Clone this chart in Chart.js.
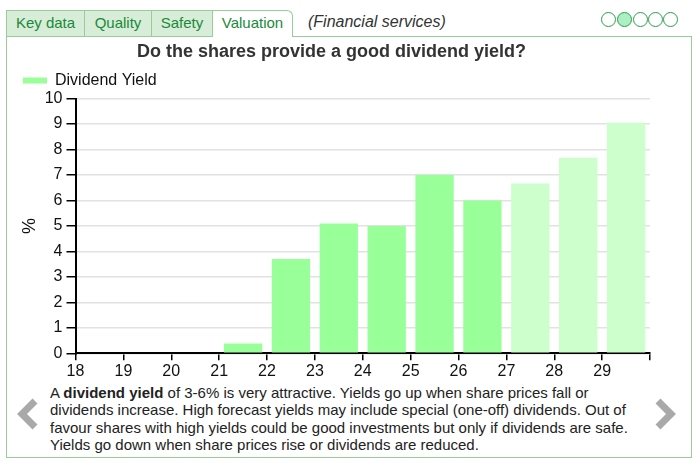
<!DOCTYPE html>
<html>
<head>
<meta charset="utf-8">
<script src="https://cdn.jsdelivr.net/npm/chart.js@4"></script>
<style>
  body { margin: 0; width: 700px; height: 472px; background: #fff; font-family: "Liberation Sans", Arial, sans-serif; position: relative; overflow: hidden; }
  .panel { position: absolute; left: 6px; top: 36px; width: 686px; height: 422px; box-sizing: border-box; border: 1px solid #99cc99; }
  .tab { position: absolute; top: 10px; height: 27px; box-sizing: border-box; border: 1px solid #99cc99; background: #d7edd7; color: #1a8a3a; font-size: 15px; line-height: 24px; text-align: center; }
  .tab.active { background: #fff; border-bottom: none; border-top-right-radius: 6px; }
  .sector { position: absolute; left: 308px; top: 11px; font-size: 16px; font-style: italic; color: #333; line-height: 22px; }
  .dot { position: absolute; top: 12px; width: 15px; height: 15px; box-sizing: border-box; border: 1px solid #2e9e4e; border-radius: 50%; background: #fff; }
  .dot.on { background: #aaf0c2; }
  #c { position: absolute; left: 7px; top: 37px; }
  .note { position: absolute; left: 50px; top: 384px; width: 590px; font-size: 15px; line-height: 17.3px; color: #222; }
  .arrow { position: absolute; top: 398px; }
</style>
</head>
<body>
<div class="panel"></div>
<div class="tab" style="left:6px;width:79px">Key data</div>
<div class="tab" style="left:84px;width:68px">Quality</div>
<div class="tab" style="left:151px;width:62px">Safety</div>
<div class="tab active" style="left:212px;width:81px">Valuation</div>
<div class="sector">(Financial services)</div>
<div class="dot" style="left:601px"></div>
<div class="dot on" style="left:617px"></div>
<div class="dot" style="left:633px"></div>
<div class="dot" style="left:648px"></div>
<div class="dot" style="left:663px"></div>

<canvas id="c" width="684" height="343"></canvas>

<div class="note">A <b>dividend yield</b> of 3-6% is very attractive. Yields go up when share prices fall or dividends increase. High forecast yields may include special (one-off) dividends. Out of favour shares with high yields could be good investments but only if dividends are safe. Yields go down when share prices rise or dividends are reduced.</div>

<svg class="arrow" style="left:16px" width="24" height="32"><polyline points="19,3 6,16 19,29" fill="none" stroke="#a9a9a9" stroke-width="7"/></svg>
<svg class="arrow" style="left:653px" width="24" height="32"><polyline points="5,3 18,16 5,29" fill="none" stroke="#a9a9a9" stroke-width="7"/></svg>

<script>
// years (x axis is 18..30, each bar fills one year)
const years = [18, 19, 20, 21, 22, 23, 24, 25, 26, 27, 28, 29];
const yields = [null, null, null, 0.38, 3.7, 5.1, 5.0, 7.0, 6.0, 6.67, 7.68, 9.05];
const forecast = [false, false, false, false, false, false, false, false, false, true, true, true];
const yTicks = [0, 1, 2, 3, 4, 5, 6, 7, 8, 9, 10];

const ACTUAL = "#99ff99";
const FORECAST = "#ccffcc";

const points = years.map((yr, i) => ({ x: yr + 0.5, y: yields[i] }));
const colours = forecast.map(f => (f ? FORECAST : ACTUAL));

new Chart(document.getElementById("c"), {
  type: "bar",
  data: {
    datasets: [{
      label: "Dividend Yield",
      data: points,
      backgroundColor: colours,
      borderWidth: 0,
      barPercentage: 0.8,
      categoryPercentage: 1
    }]
  },
  options: {
    responsive: false,
    animation: false,
    devicePixelRatio: 1,
    layout: { padding: { left: 6, right: 41, top: 0, bottom: 0 } },
    plugins: {
      title: {
        display: true,
        text: "Do the shares provide a good dividend yield?",
        color: "#333",
        font: { family: "Liberation Sans", size: 18, weight: "bold" },
        padding: { top: 4, bottom: 0 }
      },
      legend: {
        display: true,
        align: "start",
        labels: {
          boxWidth: 24,
          boxHeight: 6,
          padding: 10,
          color: "#111",
          font: { family: "Liberation Sans", size: 16 }
        }
      },
      tooltip: { enabled: false }
    },
    scales: {
      x: {
        type: "linear",
        offset: false,
        min: years[0],
        max: years[years.length - 1] + 1,
        afterFit: s => { s.height = 26.7; },
        ticks: {
          stepSize: 1,
          autoSkip: false,
          maxRotation: 0,
          padding: 2,
          color: "#111",
          font: { family: "Liberation Sans", size: 16 },
          callback: v => (years.includes(v) ? String(v) : "")
        },
        grid: { offset: false, drawOnChartArea: false, tickLength: 7, tickColor: "#000", lineWidth: 1.5 },
        border: { color: "#000", width: 2 }
      },
      y: {
        min: yTicks[0],
        max: yTicks[yTicks.length - 1],
        afterFit: s => { s.width = 62.5; },
        ticks: {
          stepSize: 1,
          padding: 4,
          color: "#111",
          font: { family: "Liberation Sans", size: 16 }
        },
        title: {
          display: true,
          text: "%",
          color: "#111",
          font: { family: "Liberation Sans", size: 18 },
          padding: { top: 6, bottom: 0 }
        },
        grid: { color: "#e2e2e2", lineWidth: 1.5, tickColor: "#000", tickLength: 9 },
        border: { color: "#000", width: 2 }
      }
    }
  }
});
</script>
</body>
</html>
